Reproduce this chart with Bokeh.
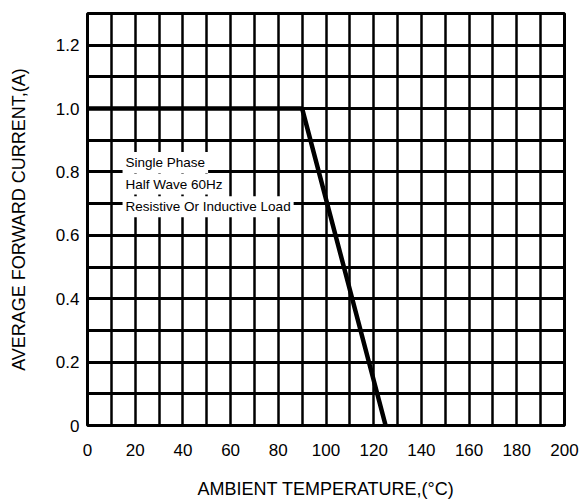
from bokeh.plotting import figure
from bokeh.models import Range1d, FixedTicker, Label
from bokeh.embed import file_html
from bokeh.resources import INLINE

# data
temp_c = [0, 90, 125]
current_a = [1.0, 1.0, 0.0]
x_ticks = [0, 20, 40, 60, 80, 100, 120, 140, 160, 180, 200]
y_ticks = [0, 0.2, 0.4, 0.6, 0.8, 1.0, 1.2]
y_tick_labels = ["0", "0.2", "0.4", "0.6", "0.8", "1.0", "1.2"]
x_grid = list(range(10, 200, 10))
y_grid = [0.1, 0.2, 0.3, 0.4, 0.5, 0.6, 0.7, 0.8, 0.9, 1.0, 1.1, 1.2]
notes = ["Single Phase", "Half Wave 60Hz", "Resistive Or Inductive Load"]
note_x = 14.7
note_y = [0.83, 0.762, 0.69]

FONT = "Liberation Sans"

p = figure(width=580, height=501, output_backend="svg", toolbar_location=None,
           x_range=Range1d(0, 200), y_range=Range1d(0, 1.3),
           min_border_left=87, min_border_right=16, min_border_top=13,
           min_border_bottom=74, background_fill_color="white",
           border_fill_color="white")

p.outline_line_color = "black"
p.outline_line_width = 3
p.outline_line_alpha = 1

for ax in (p.xaxis, p.yaxis):
    ax.axis_line_color = None
    ax.major_tick_line_color = None
    ax.minor_tick_line_color = None
    ax.major_tick_out = 0
    ax.major_tick_in = 0
    ax.minor_tick_out = 0
    ax.minor_tick_in = 0
    ax.major_label_text_font = FONT
    ax.major_label_text_font_size = "17px"
    ax.major_label_text_color = "black"
    ax.axis_label_text_font = FONT
    ax.axis_label_text_font_size = "18px"
    ax.axis_label_text_font_style = "normal"
    ax.axis_label_text_color = "black"

p.xaxis.ticker = FixedTicker(ticks=x_ticks)
p.yaxis.ticker = FixedTicker(ticks=y_ticks)
p.yaxis.major_label_overrides = {t: s for t, s in zip(y_ticks, y_tick_labels)}
p.xaxis.major_label_standoff = 18
p.yaxis.major_label_standoff = 8
p.xaxis.axis_label = "AMBIENT TEMPERATURE,(°C)"
p.yaxis.axis_label = "AVERAGE FORWARD CURRENT,(A)"
p.xaxis.axis_label_standoff = 20
p.yaxis.axis_label_standoff = 24

p.xgrid.ticker = FixedTicker(ticks=x_grid)
p.ygrid.ticker = FixedTicker(ticks=y_grid)
p.xgrid.grid_line_color = "black"
p.ygrid.grid_line_color = "black"
p.xgrid.grid_line_width = 2.5
p.ygrid.grid_line_width = 3
p.xgrid.grid_line_alpha = 1
p.ygrid.grid_line_alpha = 1

p.line(temp_c, current_a, line_color="black", line_width=4.5)

for txt, yy in zip(notes, note_y):
    p.add_layout(Label(x=note_x, y=yy, text=txt, text_font=FONT,
                       text_font_size="13.5px", text_color="black",
                       text_baseline="middle", text_align="left",
                       background_fill_color="white", background_fill_alpha=1,
                       padding=3))

open("out.html", "w").write(file_html(p, INLINE))
